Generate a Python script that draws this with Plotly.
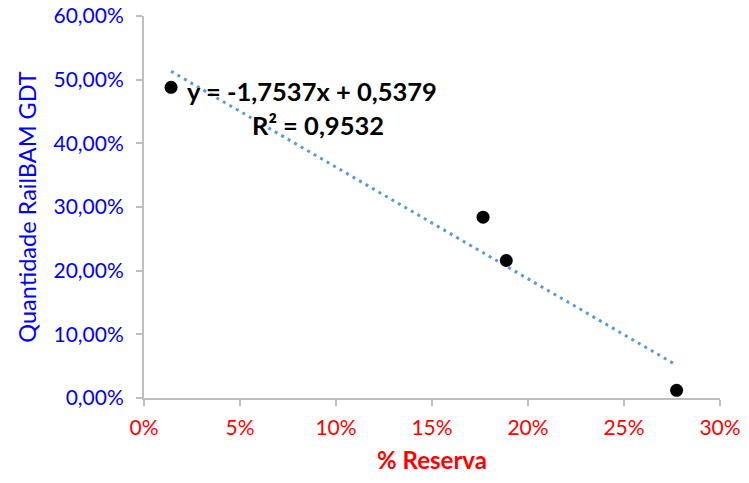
import plotly.graph_objects as go

# Observations: reserve share vs. RailBAM GDT quantity
reserva = [0.0141, 0.1766, 0.1887, 0.2774]
quantidade = [0.488, 0.284, 0.216, 0.012]

# Linear trend reported on the chart
slope = -1.7537
intercept = 0.5379
r2 = 0.9532

x_ticks = [0, 0.05, 0.10, 0.15, 0.20, 0.25, 0.30]
y_ticks = [0, 0.10, 0.20, 0.30, 0.40, 0.50, 0.60]

trend_x = [min(reserva), max(reserva)]
trend_y = [slope * x + intercept for x in trend_x]

fig = go.Figure()
fig.add_trace(go.Scatter(
    x=trend_x, y=trend_y, mode="lines",
    line=dict(color="#5b9bd5", width=3, dash="3px,4.5px"),
    hoverinfo="skip", showlegend=False,
))
fig.add_trace(go.Scatter(
    x=reserva, y=quantidade, mode="markers",
    marker=dict(color="black", size=13),
    showlegend=False,
))

def fmt(v, decimals):
    return f"{v:.{decimals}f}".replace(".", ",")

label_font = dict(family="Lato", size=25.5, color="black", weight="bold")
fig.add_annotation(
    x=0.0875, y=0.482, xref="x", yref="y",
    text=f"y = {fmt(slope, 4)}x + {fmt(intercept, 4)}",
    showarrow=False, font=label_font,
)
fig.add_annotation(
    x=0.0906, y=0.4286, xref="x", yref="y",
    text=f"R² = {fmt(r2, 4)}",
    showarrow=False, font=label_font,
)

axis_common = dict(
    showgrid=False, zeroline=False, showline=True, linecolor="#bfbfbf", linewidth=2,
    ticks="outside", ticklen=6, tickcolor="#bfbfbf", tickwidth=2, automargin=False,
)

fig.update_layout(
    width=749, height=483,
    margin=dict(l=144, r=29, t=16, b=85),
    paper_bgcolor="white", plot_bgcolor="white",
    separators=",.",
    font=dict(family="Lato"),
    xaxis=dict(
        range=[0, 0.30], tickvals=x_ticks, tickformat=".0%",
        tickfont=dict(size=21, color="#ff0000"), ticklabelstandoff=4,
        title=dict(text="<b>% Reserva</b>", font=dict(size=24, color="#ff0000"), standoff=14),
        **axis_common,
    ),
    yaxis=dict(
        range=[0, 0.60], tickvals=y_ticks, tickformat=".2%",
        tickfont=dict(size=21, color="#0000ff"), ticklabelstandoff=8,
        title=dict(text="Quantidade RailBAM GDT", font=dict(size=23.5, color="#0000ff"), standoff=10),
        **axis_common,
    ),
)

fig.write_html("out.html")
